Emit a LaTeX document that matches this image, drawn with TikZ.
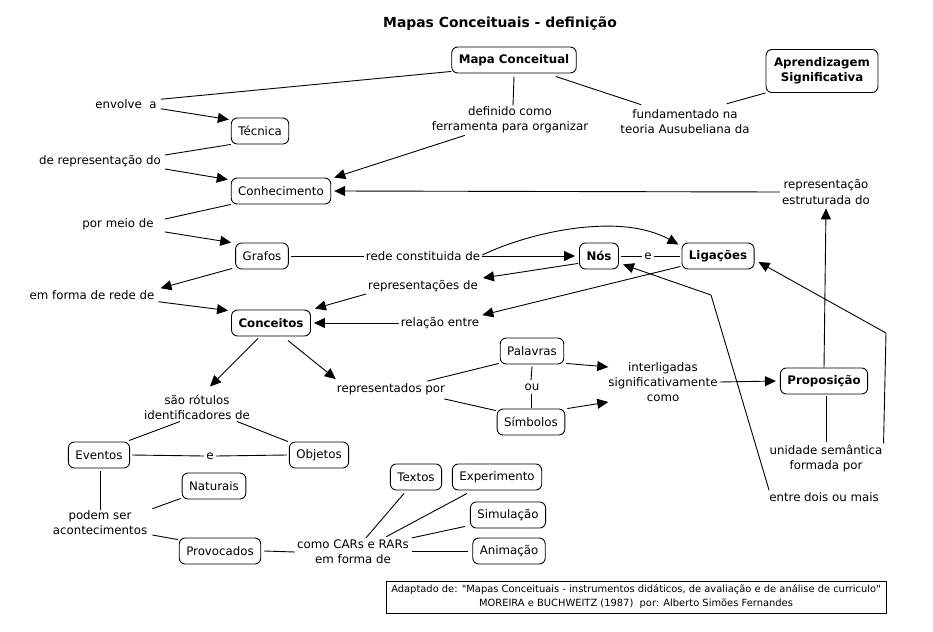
\documentclass[tikz,border=0pt]{standalone}
\usepackage{fontspec}
\setmainfont{DejaVu Sans}
\newfontfamily\footfont{DejaVu Sans}[Ligatures=TeXOff]
\usetikzlibrary{arrows.meta,calc}
\begin{document}
\begin{tikzpicture}[x=1pt,y=-1pt,
  every node/.style={font=\fontsize{11.8}{15}\selectfont},
  lbl/.style={align=center,inner sep=2pt},
  cbox/.style={draw,rounded corners=6pt,line width=0.9pt,inner xsep=7pt,minimum height=26pt,align=center},
  bf/.style={font=\fontsize{11.8}{15}\selectfont\bfseries},
  ln/.style={line width=0.9pt},
  arr/.style={line width=0.9pt,-{Triangle[length=11pt,width=10pt]}}]
\useasboundingbox (0,0) rectangle (933,631);
% title
\node[lbl,font=\fontsize{13.9}{16}\selectfont\bfseries] (title) at (500,24) {Mapas Conceituais - definição};
% concept boxes
\node[cbox,bf] (mapa) at (514,60) {Mapa Conceitual};
\node[cbox,bf,minimum width=112pt,minimum height=43pt] (aprend) at (822,71) {Aprendizagem\\Significativa};
\node[cbox] (tecnica) at (260,131) {Técnica};
\node[cbox] (conhec) at (281,191) {Conhecimento};
\node[cbox] (grafos) at (262,256) {Grafos};
\node[cbox,bf] (nos) at (599,256) {Nós};
\node[cbox,bf] (lig) at (718,256) {Ligações};
\node[cbox,bf] (conceitos) at (271,323) {Conceitos};
\node[cbox] (palavras) at (532,351) {Palavras};
\node[cbox] (simbolos) at (531,422) {Símbolos};
\node[cbox,bf] (prop) at (824,381) {Proposição};
\node[cbox] (eventos) at (99,455) {Eventos};
\node[cbox] (objetos) at (319,455) {Objetos};
\node[cbox] (naturais) at (214,486) {Naturais};
\node[cbox] (textos) at (416,477) {Textos};
\node[cbox] (experimento) at (497,477) {Experimento};
\node[cbox] (simulacao) at (508,515) {Simulação};
\node[cbox] (provocados) at (220,551) {Provocados};
\node[cbox] (animacao) at (509,551) {Animação};
% linking phrases
\node[lbl] (envolve) at (126,104) {envolve\ \ a};
\node[lbl] (derep) at (100,161) {de representação do};
\node[lbl] (definido) at (510,120) {definido como\\ferramenta para organizar};
\node[lbl] (fund) at (685,122) {fundamentado na\\teoria Ausubeliana da};
\node[lbl] (repr) at (826,192) {representação\\estruturada do};
\node[lbl] (pormeio) at (118,224) {por meio de};
\node[lbl] (rede) at (423,256) {rede constituida de};
\node[lbl] (e1) at (648,256) {e};
\node[lbl] (emforma) at (92,295) {em forma de rede de};
\node[lbl] (reprde) at (423,286) {representações de};
\node[lbl] (relacao) at (440,323) {relação entre};
\node[lbl] (reppor) at (391,389) {representados por};
\node[lbl] (ou) at (532,387) {ou};
\node[lbl] (interl) at (663,382) {interligadas\\significativamente\\como};
\node[lbl] (saorot) at (197,407) {são rótulos\\identificadores de};
\node[lbl] (e2) at (210,456) {e};
\node[lbl] (unid) at (826,459) {unidade semântica\\formada por};
\node[lbl] (entre) at (824,497) {entre dois ou mais};
\node[lbl] (podem) at (100,523) {podem ser\\acontecimentos};
\node[lbl] (comocars) at (353,552) {como CARs e RARs\\em forma de};
% footer
\node[draw,line width=0.7pt,minimum width=500pt,minimum height=32pt,align=center,inner sep=1pt,font=\fontsize{9.9}{14}\selectfont\footfont] (footer) at (636,597) {Adaptado de: "Mapas Conceituais - instrumentos didáticos, de avaliação e de análise de curriculo"\\MOREIRA e BUCHWEITZ (1987)\ \ por: Alberto Simões Fernandes};
% bend points
\coordinate (bendU) at (886,333);
\coordinate (bendE) at (711,295);
% connectors
\draw[ln] ($(mapa.south west)+(0,-2)$) -- ($(envolve.north east)+(2,2)$);
\draw[arr] ($(envolve.south east)+(2,-2)$) -- ($(tecnica.north west)+(-2,2)$);
\draw[ln] (tecnica.south west) -- ($(derep.north east)+(2,2)$);
\draw[arr] ($(derep.south east)+(2,0)$) -- ($(conhec.north west)+(-3,2)$);
\draw[ln] ($(mapa.south)+(0,3)$) -- ($(definido.north)+(3,1)$);
\draw[arr] ($(definido.south west)+(35,0)$) -- ($(conhec.north east)+(3,0)$);
\draw[ln] ($(mapa.south east)+(-21,3)$) -- ($(fund.north west)+(23,-3)$);
\draw[ln] ($(fund.north east)+(-25,-4)$) -- (aprend.south west);
\draw[arr] (repr.west) -- ($(conhec.east)+(3,0)$);
\draw[arr] (prop.north) -- ($(repr.south)+(0,2)$);
\draw[ln] (conhec.south west) -- ($(pormeio.north east)+(9,3)$);
\draw[arr] ($(pormeio.south east)+(9,0)$) -- ($(grafos.north west)+(-4,0)$);
\draw[ln] ($(grafos.east)+(2,0)$) -- (rede.west);
\draw[arr] (rede.east) -- ($(nos.west)+(-4,0)$);
\draw[arr] ($(rede.east)+(0,-1)$) .. controls (530,232) and (620,212) .. ($(lig.north west)+(-3,2)$);
\draw[ln] ($(nos.east)+(2,0)$) -- (e1.west);
\draw[ln] (e1.east) -- ($(lig.west)+(-2,0)$);
\draw[arr] ($(grafos.south west)+(-3,-1)$) -- ($(emforma.north east)+(4,0)$);
\draw[arr] ($(emforma.south east)+(2,0)$) -- ($(conceitos.north west)+(-3,1)$);
\draw[arr] ($(nos.south west)+(-1,-6)$) -- ($(reprde.north east)+(3,0)$);
\draw[arr] ($(reprde.south west)+(0,0)$) -- ($(conceitos.north east)+(4,-1)$);
\draw[arr] ($(lig.south west)+(-1,-3)$) -- ($(relacao.north east)+(1,0)$);
\draw[arr] (relacao.west) -- ($(conceitos.east)+(3,0)$);
\draw[arr] ($(conceitos.south)+(-13,2)$) -- ($(saorot.north)+(13,-6)$);
\draw[arr] ($(conceitos.south east)+(-23,4)$) -- ($(reppor.north west)+(1,-2)$);
\draw[ln] ($(reppor.north east)+(-20,0)$) -- ($(palavras.south west)+(-1,-1)$);
\draw[ln] ($(reppor.south east)+(-3,2)$) -- ($(simbolos.north west)+(-1,2)$);
\draw[ln] ($(palavras.south)+(0,2)$) -- ($(ou.north)+(-1,-1)$);
\draw[ln] ($(ou.south)+(-1,1)$) -- ($(simbolos.north)+(0,-1)$);
\draw[arr] ($(palavras.south east)+(2,-1)$) -- ($(interl.west)+(2,-15)$);
\draw[arr] ($(simbolos.north east)+(2,0)$) -- ($(interl.west)+(2,20)$);
\draw[arr] (interl.east) -- ($(prop.west)+(-4,0)$);
\draw[ln] ($(saorot.south)+(-17,0)$) -- ($(eventos.north east)+(-1,-1)$);
\draw[ln] ($(saorot.south)+(40,0)$) -- ($(objetos.north west)+(-1,0)$);
\draw[ln] ($(eventos.east)+(2,0)$) -- (e2.west);
\draw[ln] (e2.east) -- ($(objetos.west)+(-2,0)$);
\draw[ln] ($(eventos.south)+(1,3)$) -- ($(podem.north)+(0,1)$);
\draw[ln] ($(podem.north east)+(3,0)$) -- ($(naturais.south west)+(-1,-1)$);
\draw[ln] ($(podem.east)+(3,12)$) -- ($(provocados.north west)+(-1,2)$);
\draw[ln] ($(provocados.east)+(3,0)$) -- (comocars.west);
\draw[ln] ($(comocars.north)+(13,0)$) -- ($(textos.south)+(-12,3)$);
\draw[ln] ($(comocars.north)+(33,-1)$) -- ($(experimento.south)+(-30,3)$);
\draw[ln] ($(comocars.north east)+(1,0)$) -- ($(simulacao.south west)+(-5,-2)$);
\draw[ln] ($(comocars.east)+(1,-1)$) -- ($(animacao.west)+(-4,0)$);
\draw[ln] ($(prop.south)+(2,2)$) -- ($(unid.north)+(0,-1)$);
\draw[ln] ($(unid.north east)+(-1,0)$) -- (bendU);
\draw[arr] (bendU) -- ($(lig.east)+(4,6)$);
\draw[ln] ($(entre.north west)+(2,0)$) -- (bendE);
\draw[arr] (bendE) -- ($(nos.south east)+(4,-5)$);
\end{tikzpicture}
\end{document}
